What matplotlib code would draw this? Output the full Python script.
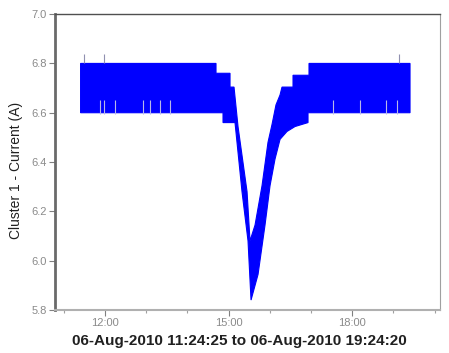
import numpy as np
import matplotlib.pyplot as plt
from matplotlib.ticker import MultipleLocator, FuncFormatter

# Courant du cluster 1 : enveloppe haute / basse du signal (heures décimales, A)
upper_hours = [11.407, 14.694, 14.694, 15.034, 15.034, 15.131, 15.228, 15.447, 15.519,
               15.641, 15.811, 15.956, 16.053, 16.150, 16.248, 16.296, 16.563, 16.563,
               16.951, 16.951, 19.403]
upper_amps = [6.80, 6.80, 6.76, 6.76, 6.704, 6.704, 6.544, 6.28, 6.08,
              6.144, 6.304, 6.48, 6.552, 6.632, 6.672, 6.704, 6.704, 6.752,
              6.752, 6.80, 6.80]

lower_hours = [11.407, 14.864, 14.864, 15.155, 15.325, 15.471, 15.544, 15.714, 15.883,
               16.005, 16.126, 16.248, 16.417, 16.612, 16.927, 16.927, 19.403]
lower_amps = [6.60, 6.60, 6.56, 6.56, 6.28, 6.08, 5.84, 5.944, 6.144,
              6.304, 6.412, 6.492, 6.524, 6.544, 6.56, 6.60, 6.60]

# pics isolés au-dessus de la bande
spike_hi_hours = [11.50, 11.985, 19.135]
spike_hi_amps = [6.84, 6.84, 6.84]
# pics vers le bas (traits clairs dans la bande)
spike_lo_hours = [11.879, 11.976, 12.243, 12.922, 13.092, 13.335, 13.578,
                  17.534, 18.189, 18.820, 19.087]
spike_lo_amps = [6.652] * len(spike_lo_hours)

start_label = "06-Aug-2010 11:24:25"
end_label = "06-Aug-2010 19:24:20"

plt.rcParams['font.family'] = ['Liberation Sans', 'DejaVu Sans']

fig = plt.figure(figsize=(4.49, 3.53), dpi=100)
ax = fig.add_axes([0.1225, 0.122, 0.8575, 0.838])

xs = np.concatenate([upper_hours, lower_hours[::-1]])
ys = np.concatenate([upper_amps, lower_amps[::-1]])
ax.fill(xs, ys, facecolor="#0000ff", edgecolor="#0000ff", linewidth=0.8, zorder=2)

ax.vlines(spike_hi_hours, 6.80, spike_hi_amps, color="#9090b0", linewidth=0.8, zorder=3)
ax.vlines(spike_lo_hours, 6.595, spike_lo_amps, color="#b8b8e8", linewidth=0.8, zorder=3)

ax.set_xlim(10.786, 20.131)
ax.set_ylim(5.8, 7.0)

ax.xaxis.set_major_locator(MultipleLocator(3))
ax.xaxis.set_minor_locator(MultipleLocator(1))
ax.xaxis.set_major_formatter(FuncFormatter(lambda v, p: f"{int(v):02d}:00"))
ax.yaxis.set_major_locator(MultipleLocator(0.2))
ax.yaxis.set_major_formatter(FuncFormatter(lambda v, p: f"{v:.1f}"))

ax.tick_params(axis="both", which="major", labelsize=8, labelcolor="#8a8a8a",
               color="#808080", length=4, width=0.8, pad=2)
ax.tick_params(axis="x", which="minor", color="#a0a0a0", length=2.5, width=0.8)

ax.spines["left"].set_color("#6a6a6a")
ax.spines["left"].set_linewidth(2.0)
ax.spines["bottom"].set_color("#b0b0b0")
ax.spines["bottom"].set_linewidth(1.5)
ax.spines["top"].set_color("#505050")
ax.spines["top"].set_linewidth(1.0)
ax.spines["right"].set_color("#a0a0a0")
ax.spines["right"].set_linewidth(0.8)

ax.set_ylabel("Cluster 1 - Current (A)", fontsize=10, color="#202020")
ax.yaxis.set_label_coords(-0.083, 0.473)
ax.set_xlabel(f"{start_label} to {end_label}", fontsize=11, fontweight="bold",
              color="#202020")
ax.xaxis.set_label_coords(0.48, -0.082)

fig.savefig("out.png", dpi=100)
